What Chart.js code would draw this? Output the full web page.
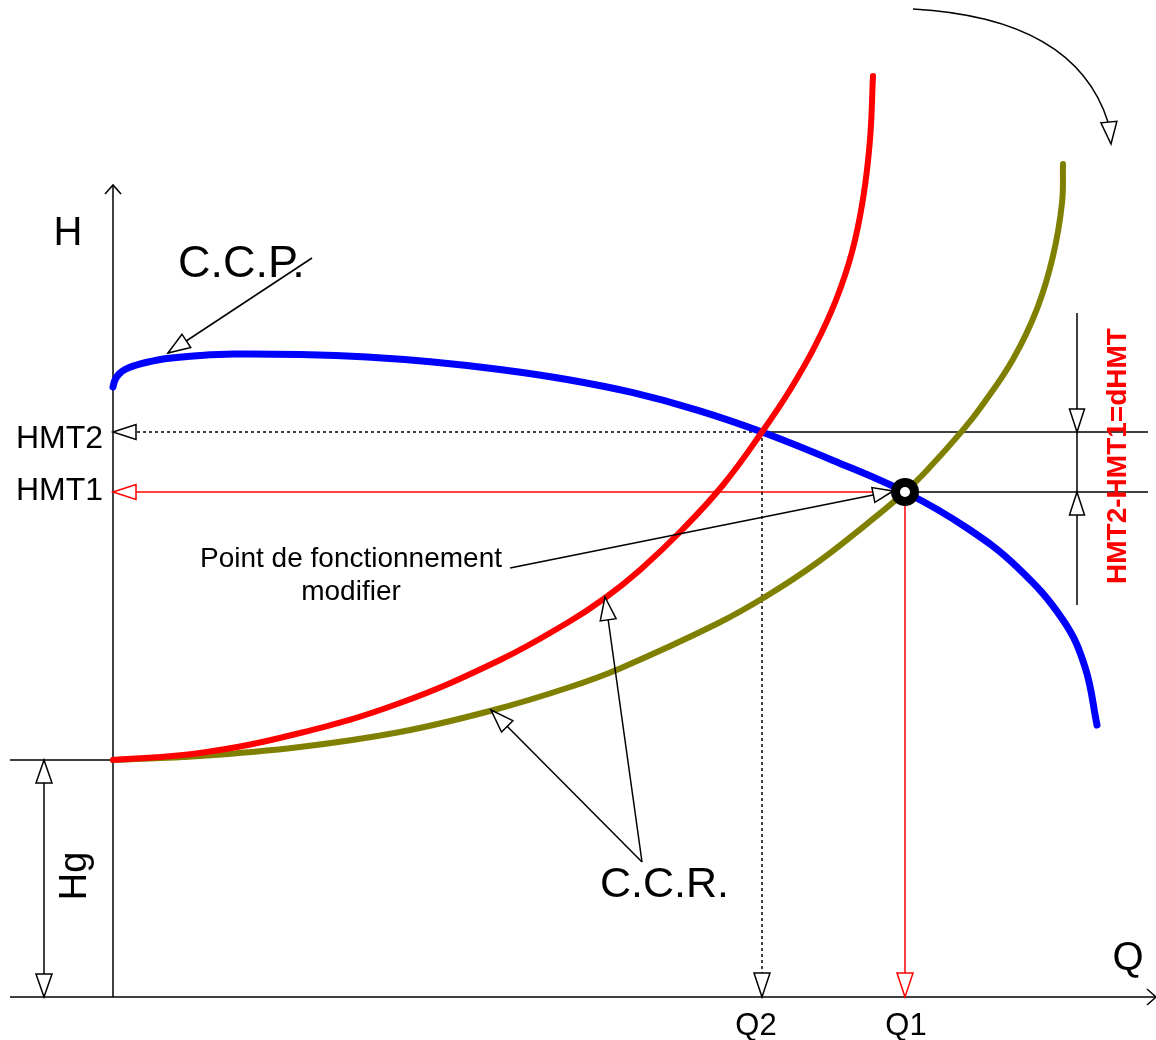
<!DOCTYPE html>
<html>
<head>
<meta charset="utf-8">
<script src="https://cdn.jsdelivr.net/npm/chart.js@4"></script>
<style>
  html, body { margin: 0; padding: 0; background: #fff; }
  canvas { display: block; }
</style>
</head>
<body>
<canvas id="pumpChart" width="1156" height="1040"></canvas>
<script>
// Courbe caractéristique de la pompe (C.C.P.)
const ccpQ = [0, 0.2, 0.6, 1.2, 2.2, 3.5, 5.4, 8.7, 12.0, 18.7, 25.4, 32.0, 38.7, 45.4, 52.0, 58.5, 64.9, 72.0, 79.2, 85.4, 90.4, 95.0, 97.2, 98.4];
const ccpH = [61.0, 61.7, 62.3, 62.75, 63.15, 63.5, 63.85, 64.15, 64.3, 64.25, 64.0, 63.5, 62.75, 61.75, 60.43, 58.67, 56.5, 53.66, 50.5, 46.9, 43.0, 37.7, 33.0, 27.2];

// Courbes caractéristiques du réseau (C.C.R.) : modifiée (rouge) et initiale (olive)
const ccrRedQ = [0, 8.7, 18.7, 28.7, 38.7, 45.4, 49.2, 52.7, 57.0, 61.0, 64.9, 67.7, 70.2, 72.3, 73.9, 75.0, 75.7, 76.0];
const ccrRedH = [23.7, 24.4, 26.4, 29.4, 33.7, 37.4, 39.9, 42.7, 46.8, 51.2, 56.5, 60.7, 65.1, 69.7, 74.5, 79.8, 85.75, 92.1];
const ccrOliveQ = [0, 8.7, 18.7, 28.7, 37.7, 45.4, 50.7, 60.4, 65.4, 70.4, 75.4, 79.2, 81.4, 84.9, 87.0, 90.0, 92.4, 94.0, 94.9, 95.0];
const ccrOliveH = [23.7, 24.1, 25.0, 26.5, 28.6, 30.9, 32.86, 37.32, 40.12, 43.42, 47.32, 50.5, 52.67, 56.59, 59.28, 63.78, 68.82, 74.1, 79.4, 83.3];

// points remarquables
const Q1 = 79.2, Q2 = 64.9;
const HMT1 = 50.5, HMT2 = 56.5;
const Hg = 23.7;

const FONT = '"Liberation Sans", Arial, sans-serif';

function zip(qs, hs) {
  return qs.map((q, i) => ({ x: q, y: hs[i] }));
}

// dessin des axes, cotes, flèches et textes
const schemaPlugin = {
  id: 'schema',
  beforeDatasetsDraw(chart) {
    const ctx = chart.ctx;
    const P = (q, h) => [chart.scales.x.getPixelForValue(q), chart.scales.y.getPixelForValue(h)];
    ctx.save();
    // axes
    seg(ctx, P(-10.3, 0), P(104.3, 0), '#000', 1.5);
    seg(ctx, P(0, 0), P(0, 81.2), '#000', 1.5);
    openHead(ctx, P(0, 81.2), P(0, 0), 9, 8);
    openHead(ctx, P(104.3, 0), P(0, 0), 9, 8);
    // Hg
    seg(ctx, P(-10.3, Hg), P(0, Hg), '#000', 1.5);
    // lignes HMT2 et HMT1
    seg(ctx, P(0, HMT2), P(Q2, HMT2), '#000', 1.5, [3, 3]);
    seg(ctx, P(Q2, HMT2), P(103.5, HMT2), '#000', 1.5);
    seg(ctx, P(0, HMT1), P(Q1, HMT1), '#f00', 1.5);
    seg(ctx, P(Q1, HMT1), P(103.5, HMT1), '#000', 1.5);
    // verticales Q2 et Q1
    seg(ctx, P(Q2, HMT2), P(Q2, 0), '#000', 1.5, [3, 3]);
    seg(ctx, P(Q1, HMT1), P(Q1, 0), '#f00', 1.5);
    ctx.restore();
  },
  afterDatasetsDraw(chart) {
    const ctx = chart.ctx;
    const P = (q, h) => [chart.scales.x.getPixelForValue(q), chart.scales.y.getPixelForValue(h)];
    ctx.save();

    // têtes de flèches des lignes de lecture
    hollowHead(ctx, P(0, HMT2), P(Q2, HMT2), 23, 7.5, '#000');
    hollowHead(ctx, P(0, HMT1), P(Q1, HMT1), 23, 7.5, '#f00');
    hollowHead(ctx, P(Q2, 0), P(Q2, HMT2), 24, 8, '#000');
    hollowHead(ctx, P(Q1, 0), P(Q1, HMT1), 24, 8, '#f00');

    // cote Hg
    seg(ctx, P(-6.9, Hg), P(-6.9, 0), '#000', 1.5);
    hollowHead(ctx, P(-6.9, Hg), P(-6.9, 0), 23, 8, '#000');
    hollowHead(ctx, P(-6.9, 0), P(-6.9, Hg), 23, 8, '#000');

    // cote dHMT
    seg(ctx, P(96.4, 68.4), P(96.4, 39.2), '#000', 1.5);
    hollowHead(ctx, P(96.4, HMT2), P(96.4, 68.4), 23, 7.5, '#000');
    hollowHead(ctx, P(96.4, HMT1), P(96.4, 39.2), 23, 7.5, '#000');

    // point de fonctionnement
    const op = P(Q1, HMT1);
    ctx.beginPath(); ctx.arc(op[0], op[1], 14, 0, Math.PI * 2); ctx.fillStyle = '#000'; ctx.fill();
    ctx.beginPath(); ctx.arc(op[0], op[1], 5, 0, Math.PI * 2); ctx.fillStyle = '#fff'; ctx.fill();

    // flèche C.C.P.
    seg(ctx, P(19.9, 73.9), P(5.5, 64.4), '#000', 1.5);
    hollowHead(ctx, P(5.5, 64.4), P(19.9, 73.9), 22, 8, '#000');

    // flèche point de fonctionnement
    seg(ctx, P(39.7, 42.9), P(78.0, 50.6), '#000', 1.5);
    hollowHead(ctx, P(78.0, 50.6), P(39.7, 42.9), 20, 7.5, '#000');

    // flèches C.C.R.
    seg(ctx, P(52.9, 13.5), P(49.2, 40.0), '#000', 1.5);
    hollowHead(ctx, P(49.2, 40.0), P(52.9, 13.5), 23, 8, '#000');
    seg(ctx, P(52.9, 13.5), P(37.8, 28.7), '#000', 1.5);
    hollowHead(ctx, P(37.8, 28.7), P(52.9, 13.5), 23, 8, '#000');

    // flèche courbe en haut à droite
    const a0 = P(80, 98.8), c0 = P(96.2, 97.9), a1 = P(99.5, 87.5), tip = P(99.8, 85.3);
    ctx.beginPath();
    ctx.moveTo(a0[0], a0[1]);
    ctx.quadraticCurveTo(c0[0], c0[1], a1[0], a1[1]);
    ctx.strokeStyle = '#000'; ctx.lineWidth = 1.5; ctx.setLineDash([]);
    ctx.stroke();
    hollowHead(ctx, tip, P(99.3, 90.5), 22, 8, '#000');

    // textes
    ctx.fillStyle = '#000';
    ctx.textBaseline = 'alphabetic';
    ctx.textAlign = 'center';
    txt(ctx, 'H', P(-4.5, 75.2), '40px ' + FONT);
    txt(ctx, 'Q', P(101.5, 2.7), '40px ' + FONT);
    txt(ctx, 'Q2', P(Q2 - 0.6, -3.8), '31px ' + FONT);
    txt(ctx, 'Q1', P(Q1 + 0.1, -3.8), '31px ' + FONT);
    txt(ctx, 'Point de fonctionnement', P(23.8, 43.0), '28px ' + FONT);
    txt(ctx, 'modifier', P(23.8, 39.7), '28px ' + FONT);
    ctx.textAlign = 'left';
    txt(ctx, 'C.C.P.', P(6.5, 72.0), '45px ' + FONT);
    txt(ctx, 'C.C.R.', P(48.7, 10.0), '43px ' + FONT);
    ctx.textAlign = 'right';
    txt(ctx, 'HMT2', P(-1.0, 54.9), '32px ' + FONT);
    txt(ctx, 'HMT1', P(-1.0, 49.7), '32px ' + FONT);

    // textes verticaux
    ctx.textAlign = 'center';
    ctx.textBaseline = 'middle';
    rot(ctx, 'Hg', P(-3.7, 12.1), '38px ' + FONT, '#000');
    rot(ctx, 'HMT2-HMT1=dHMT', P(100.5, 54.1), 'bold 28px ' + FONT, '#f00');

    ctx.restore();
  }
};

function seg(ctx, a, b, color, width, dash) {
  ctx.beginPath();
  ctx.setLineDash(dash || []);
  ctx.moveTo(a[0], a[1]);
  ctx.lineTo(b[0], b[1]);
  ctx.strokeStyle = color;
  ctx.lineWidth = width;
  ctx.stroke();
  ctx.setLineDash([]);
}

// tête triangulaire creuse, pointe en "tip", orientée depuis "from"
function hollowHead(ctx, tip, from, len, half, color) {
  const dx = tip[0] - from[0], dy = tip[1] - from[1];
  const d = Math.hypot(dx, dy);
  const ux = dx / d, uy = dy / d;
  const bx = tip[0] - ux * len, by = tip[1] - uy * len;
  ctx.beginPath();
  ctx.moveTo(tip[0], tip[1]);
  ctx.lineTo(bx - uy * half, by + ux * half);
  ctx.lineTo(bx + uy * half, by - ux * half);
  ctx.closePath();
  ctx.fillStyle = '#fff';
  ctx.fill();
  ctx.strokeStyle = color;
  ctx.lineWidth = 1.5;
  ctx.setLineDash([]);
  ctx.stroke();
}

// tête ouverte en V (axes)
function openHead(ctx, tip, from, len, half) {
  const dx = tip[0] - from[0], dy = tip[1] - from[1];
  const d = Math.hypot(dx, dy);
  const ux = dx / d, uy = dy / d;
  const bx = tip[0] - ux * len, by = tip[1] - uy * len;
  ctx.beginPath();
  ctx.moveTo(bx - uy * half, by + ux * half);
  ctx.lineTo(tip[0], tip[1]);
  ctx.lineTo(bx + uy * half, by - ux * half);
  ctx.strokeStyle = '#000';
  ctx.lineWidth = 1.5;
  ctx.stroke();
}

function txt(ctx, s, p, font) {
  ctx.font = font;
  ctx.fillText(s, p[0], p[1]);
}

function rot(ctx, s, p, font, color) {
  ctx.save();
  ctx.translate(p[0], p[1]);
  ctx.rotate(-Math.PI / 2);
  ctx.font = font;
  ctx.fillStyle = color;
  ctx.fillText(s, 0, 0);
  ctx.restore();
}

const curveStyle = {
  pointRadius: 0,
  fill: false,
  tension: 0.4,
  borderCapStyle: 'round',
  borderJoinStyle: 'round'
};

new Chart(document.getElementById('pumpChart'), {
  type: 'line',
  data: {
    datasets: [
      Object.assign({ label: 'C.C.R. modifiée', data: zip(ccrRedQ, ccrRedH), borderColor: '#ff0000', borderWidth: 6 }, curveStyle),
      Object.assign({ label: 'C.C.P.', data: zip(ccpQ, ccpH), borderColor: '#0000ff', borderWidth: 7 }, curveStyle),
      Object.assign({ label: 'C.C.R.', data: zip(ccrOliveQ, ccrOliveH), borderColor: '#808000', borderWidth: 6 }, curveStyle)
    ]
  },
  options: {
    responsive: false,
    devicePixelRatio: 1,
    animation: false,
    layout: { padding: 0 },
    plugins: { legend: { display: false }, tooltip: { enabled: false } },
    scales: {
      x: { type: 'linear', min: -11.3, max: 104.3, display: false },
      y: { type: 'linear', min: -4.3, max: 99.7, display: false }
    }
  },
  plugins: [schemaPlugin]
});
</script>
</body>
</html>
